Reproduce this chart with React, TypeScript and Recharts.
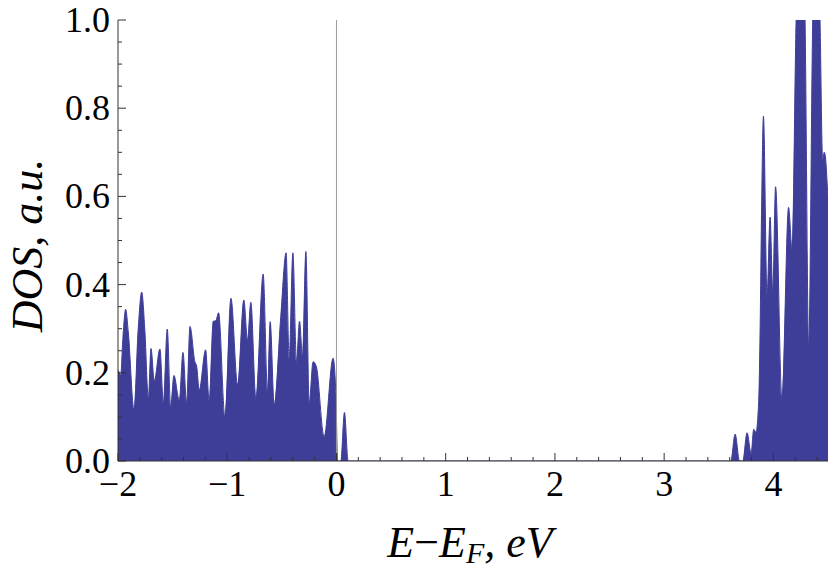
import React from 'react'
import { AreaChart, Area, XAxis, YAxis, ReferenceLine } from 'recharts'

// energy (eV, relative to E_F) and density of states
const energy = [
  -2.03, -2.0, -1.975, -1.955, -1.93, -1.905, -1.854, -1.815, -1.783, -1.755,
  -1.722, -1.698, -1.668, -1.616, -1.585, -1.549, -1.518, -1.488, -1.439, -1.405,
  -1.372, -1.341, -1.296, -1.28, -1.256, -1.198, -1.165, -1.128, -1.105, -1.079,
  -1.021, -0.966, -0.905, -0.848, -0.814, -0.784, -0.738, -0.671, -0.631, -0.607,
  -0.57, -0.51, -0.461, -0.433, -0.399, -0.366, -0.338, -0.311, -0.28, -0.25,
  -0.214, -0.185, -0.113, -0.031, -0.005, 0.01, 0.04, 0.073, 0.107, 3.61,
  3.65, 3.69, 3.72, 3.759, 3.796, 3.82, 3.84, 3.866, 3.878, 3.893,
  3.909, 3.942, 3.97, 3.994, 4.02, 4.078, 4.139, 4.171, 4.208, 4.25,
  4.29, 4.323, 4.36, 4.393, 4.427, 4.451, 4.465, 4.476, 4.5, 4.52
]
const dos = [
  0.21, 0.206, 0.195, 0.28, 0.344, 0.29, 0.116, 0.3, 0.383, 0.3,
  0.142, 0.255, 0.182, 0.254, 0.132, 0.299, 0.123, 0.194, 0.138, 0.246,
  0.132, 0.305, 0.225, 0.215, 0.161, 0.252, 0.134, 0.317, 0.318, 0.336,
  0.1, 0.369, 0.172, 0.365, 0.274, 0.36, 0.142, 0.424, 0.157, 0.316,
  0.127, 0.327, 0.472, 0.233, 0.472, 0.225, 0.317, 0.237, 0.475, 0.131,
  0.225, 0.215, 0.055, 0.233, 0.15, 0, 0, 0.11, 0, 0,
  0.061, 0, 0, 0.064, 0.017, 0.072, 0.065, 0.138, 0.29, 0.59,
  0.782, 0.376, 0.553, 0.384, 0.622, 0.14, 0.575, 0.48, 1.0, 1.3,
  1.0, 0.259, 1.0, 1.3, 1.0, 0.683, 0.7, 0.69, 0.6, 0.55
]

const xMajorTicks = [-2, -1, 0, 1, 2, 3, 4]
const xMinorTicks = [
  -1.8, -1.6, -1.4, -1.2, -0.8, -0.6, -0.4, -0.2, 0.2, 0.4, 0.6, 0.8,
  1.2, 1.4, 1.6, 1.8, 2.2, 2.4, 2.6, 2.8, 3.2, 3.4, 3.6, 3.8, 4.2, 4.4
]
const xTickLabels = ['\u22122', '\u22121', '0', '1', '2', '3', '4']
const yMajorTicks = [0, 0.2, 0.4, 0.6, 0.8, 1.0]
const yMinorTicks = [0.05, 0.1, 0.15, 0.25, 0.3, 0.35, 0.45, 0.5, 0.55, 0.65, 0.7, 0.75, 0.85, 0.9, 0.95]
const yTickLabels = ['0.0', '0.2', '0.4', '0.6', '0.8', '1.0']

const data = energy.map((e, i) => ({ e, dos: dos[i] }))

const fillColor = '#3e3e98'
const frameColor = '#333'
const font = 'Liberation Serif'
const tickFont = 36
const labelFont = 44

const xTicks = [...xMajorTicks, ...xMinorTicks].sort((a, b) => a - b)
const yTicks = [...yMajorTicks, ...yMinorTicks].sort((a, b) => a - b)

// inward ticks, labels only on the major ones
const makeXTick = (side: 'bottom' | 'top') => (props: any) => {
  const { x, y, payload } = props
  const idx = xMajorTicks.indexOf(payload.value)
  const len = idx >= 0 ? 8 : 4
  const dir = side === 'bottom' ? -1 : 1
  return (
    <g>
      <line x1={x} x2={x} y1={y} y2={y + dir * len} stroke={frameColor} strokeWidth={1} />
      {side === 'bottom' && idx >= 0 && (
        <text x={x} y={y + 35} textAnchor="middle" style={{ fontFamily: font }} fontSize={tickFont} fill="#000">
          {xTickLabels[idx]}
        </text>
      )}
    </g>
  )
}

const makeYTick = (side: 'left' | 'right') => (props: any) => {
  const { x, y, payload } = props
  const idx = yMajorTicks.indexOf(payload.value)
  const len = idx >= 0 ? 8 : 4
  const dir = side === 'left' ? 1 : -1
  return (
    <g>
      <line x1={x} x2={x + dir * len} y1={y} y2={y} stroke={frameColor} strokeWidth={1} />
      {side === 'left' && idx >= 0 && (
        <text x={x - 8} y={y + 12} textAnchor="end" style={{ fontFamily: font }} fontSize={tickFont} fill="#000">
          {yTickLabels[idx]}
        </text>
      )}
    </g>
  )
}

const XLabel = (props: any) => {
  const { viewBox } = props
  const cx = viewBox.x + viewBox.width / 2
  return (
    <text x={cx - 3} y={viewBox.y + 96} textAnchor="middle" style={{ fontFamily: font }} fontSize={labelFont} fill="#000">
      <tspan fontStyle="italic">E</tspan>
      <tspan>{'\u2212'}</tspan>
      <tspan fontStyle="italic">E</tspan>
      <tspan fontStyle="italic" fontSize={30} dy={6}>F</tspan>
      <tspan fontStyle="italic" dy={-6}>, eV</tspan>
    </text>
  )
}

const YLabel = (props: any) => {
  const { viewBox } = props
  const cy = viewBox.y + viewBox.height / 2 + 5
  return (
    <text
      x={42}
      y={cy}
      transform={`rotate(-90, 42, ${cy})`}
      textAnchor="middle"
      style={{ fontFamily: font }}
      fontSize={labelFont}
      fontStyle="italic"
      fill="#000"
    >
      DOS, a.u.
    </text>
  )
}

export default function App() {
  return (
    <div style={{ position: 'absolute', left: 0, top: 0, background: '#fff' }}>
      <AreaChart width={830} height={571} data={data} margin={{ top: 20, right: 2, bottom: 0, left: 0 }}>
        <XAxis
          xAxisId="top"
          orientation="top"
          dataKey="e"
          type="number"
          domain={[-2, 4.5]}
          allowDataOverflow
          ticks={xTicks}
          interval={0}
          height={0}
          tickSize={0}
          tickMargin={0}
          tick={makeXTick('top')}
          axisLine={{ stroke: frameColor }}
        />
        <XAxis
          dataKey="e"
          type="number"
          domain={[-2, 4.5]}
          allowDataOverflow
          ticks={xTicks}
          interval={0}
          height={110}
          tickSize={0}
          tickMargin={0}
          tick={makeXTick('bottom')}
          axisLine={{ stroke: frameColor }}
          label={<XLabel />}
        />
        <YAxis
          type="number"
          domain={[0, 1]}
          allowDataOverflow
          ticks={yTicks}
          interval={0}
          width={118}
          tickSize={0}
          tickMargin={0}
          tick={makeYTick('left')}
          axisLine={{ stroke: frameColor }}
          label={<YLabel />}
        />
        <YAxis
          yAxisId="right"
          orientation="right"
          type="number"
          domain={[0, 1]}
          allowDataOverflow
          ticks={yTicks}
          interval={0}
          width={0}
          tickSize={0}
          tickMargin={0}
          tick={makeYTick('right')}
          axisLine={{ stroke: frameColor }}
        />
        <Area
          type="monotone"
          dataKey="dos"
          stroke={fillColor}
          strokeWidth={1}
          fill={fillColor}
          fillOpacity={1}
          dot={false}
          activeDot={false}
          isAnimationActive={false}
        />
        <ReferenceLine x={0} stroke="#999" strokeWidth={1} />
      </AreaChart>
    </div>
  )
}
